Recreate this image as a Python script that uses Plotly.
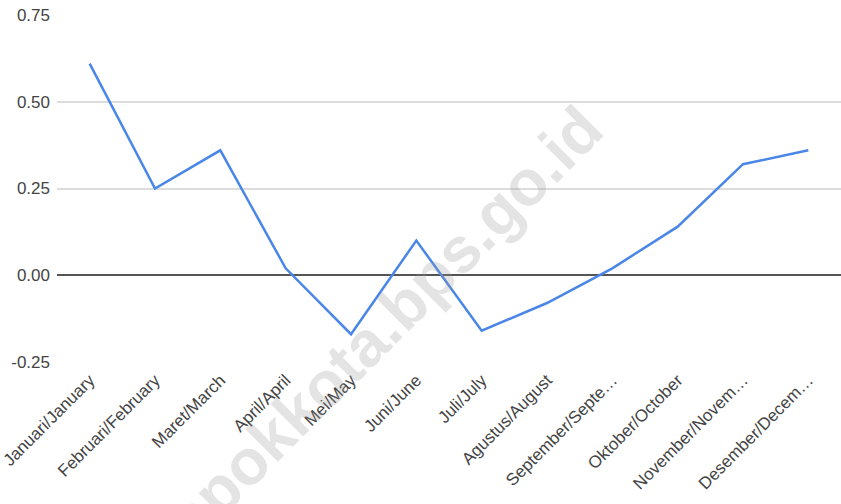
import plotly.graph_objects as go

months = ["Januari/January", "Februari/February", "Maret/March", "April/April",
          "Mei/May", "Juni/June", "Juli/July", "Agustus/August",
          "September/September", "Oktober/October", "November/November",
          "Desember/December"]
tick_labels = ["Januari/January", "Februari/February", "Maret/March", "April/April",
               "Mei/May", "Juni/June", "Juli/July", "Agustus/August",
               "September/Septe…", "Oktober/October", "November/Novem…",
               "Desember/Decem…"]
values = [0.61, 0.25, 0.36, 0.02, -0.17, 0.10, -0.16, -0.08, 0.02, 0.14, 0.32, 0.36]
y_ticks = [-0.25, 0.0, 0.25, 0.5, 0.75]
y_tick_labels = ["-0.25", "0.00", "0.25", "0.50", "0.75"]
watermark = "depokkota.bps.go.id"

fig = go.Figure()
fig.add_trace(go.Scatter(
    x=months, y=values, mode="lines",
    line=dict(color="#4a86e8", width=2.5),
    showlegend=False, hoverinfo="x+y",
))

font_family = "Liberation Sans, Arial, sans-serif"
fig.update_layout(
    width=841, height=504,
    margin=dict(l=57, r=0, t=15, b=142),
    paper_bgcolor="white", plot_bgcolor="white",
    font=dict(family=font_family, size=17, color="#444444"),
    xaxis=dict(
        type="category", categoryorder="array", categoryarray=months,
        tickmode="array", tickvals=months, ticktext=tick_labels,
        tickangle=-45, showgrid=False, zeroline=False, showline=False,
        ticks="", range=[-0.5, 11.5], automargin=False, ticklabelstandoff=4,
        tickfont=dict(size=17, color="#444444"),
    ),
    yaxis=dict(
        range=[-0.25, 0.75], tickmode="array", tickvals=y_ticks,
        ticktext=y_tick_labels, showgrid=True, gridcolor="#dcdcdc", gridwidth=1.5,
        zeroline=True, zerolinecolor="#555555", zerolinewidth=2,
        showline=False, ticks="", ticklabelstandoff=6, automargin=False,
        tickfont=dict(size=17, color="#444444"),
    ),
    annotations=[dict(
        text="<b>" + watermark + "</b>", xref="paper", yref="paper",
        x=0.40, y=0.07, xanchor="center", yanchor="middle",
        textangle=-45, showarrow=False,
        font=dict(family=font_family, size=64, color="rgba(150,150,150,0.26)"),
    )],
)

fig.write_html(
    "out.html",
    config={"displayModeBar": False},
    post_script="document.body.style.margin='0';document.body.style.overflow='hidden';",
)
